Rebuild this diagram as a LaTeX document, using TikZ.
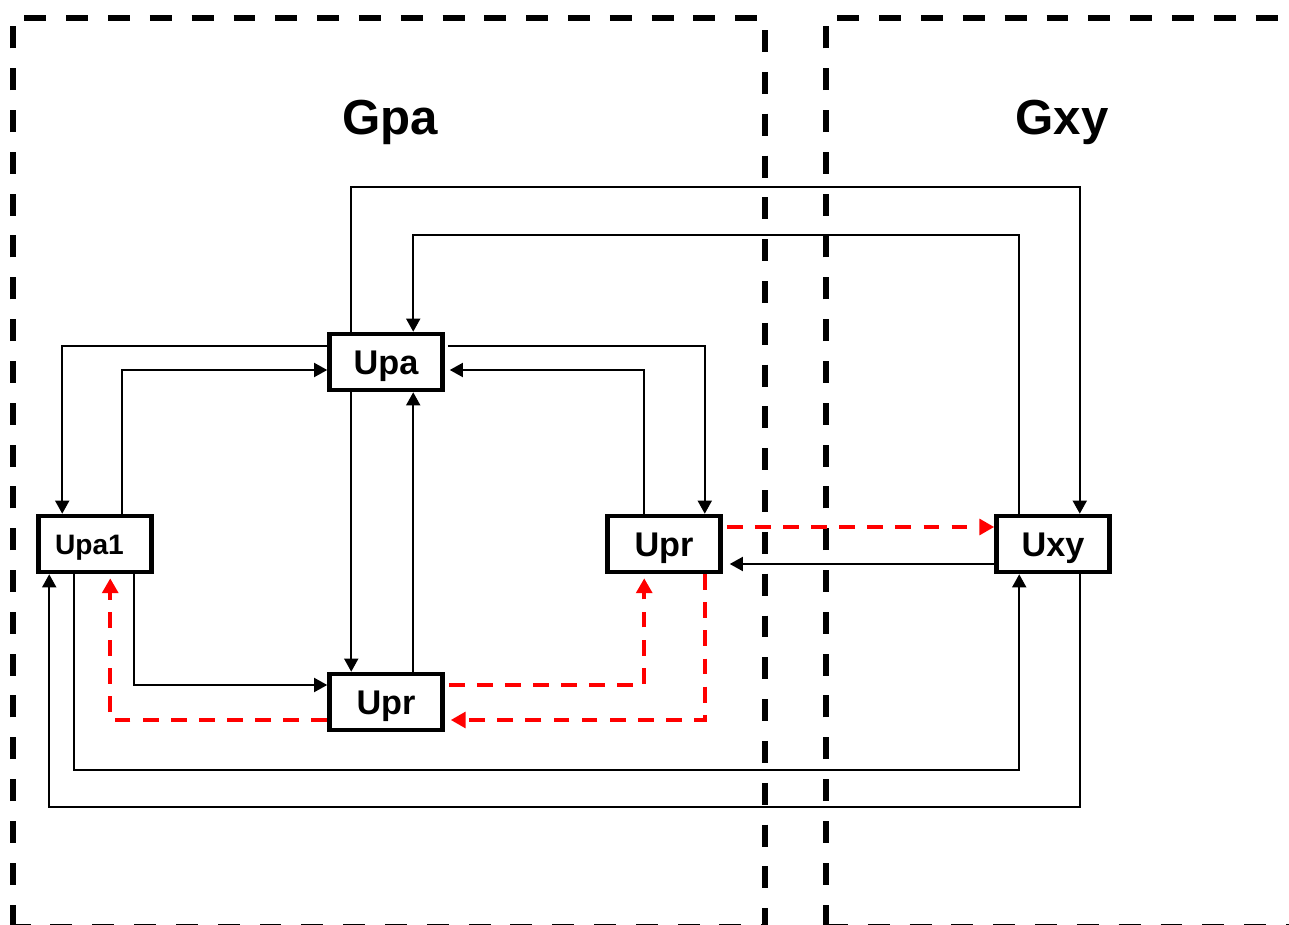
\documentclass[tikz,border=0pt]{standalone}
\usepackage{fontspec}
\setmainfont{Liberation Sans}
\usetikzlibrary{arrows.meta,calc}
\begin{document}
\begin{tikzpicture}[x=0.02cm,y=-0.02cm,
  unit/.style={draw,line width=2.6pt,minimum width=2.26cm,minimum height=1.12cm,inner sep=0pt,text height=14pt,text depth=0pt,font=\bfseries\fontsize{19.5}{24}\selectfont},
  conn/.style={line width=1.1pt,-{Triangle[length=7.5pt,width=8pt]}},
  redconn/.style={red,line width=2.2pt,dash pattern=on 9pt off 7pt,-{Triangle[length=8.5pt,width=9pt]}},
  region/.style={line width=3.1pt,dash pattern=on 12.5pt off 11.3pt},
  title/.style={text height=20pt,text depth=0pt,font=\bfseries\fontsize{28}{34}\selectfont}]
  \useasboundingbox (0,0) rectangle (1289,925);
  \draw[region] (13,926.5) -- (13,18) -- (765,18) -- (765,926.5) -- cycle;
  \draw[region] (826,926.5) -- (826,18) -- (1300,18);
  \draw[region] (826,926.5) -- (1300,926.5);
  \node[title] (gpa) at (390,117) {Gpa};
  \node[title] (gxy) at (1062,117) {Gxy};
  \node[unit] (upa) at (386,362) {Upa};
  \node[unit,text height=11.5pt,font=\bfseries\fontsize{16}{20}\selectfont] (upa1) at (95,544) {\hspace*{-0.22cm}Upa1};
  \node[unit] (uprb) at (386,702) {Upr};
  \node[unit] (uprr) at (664,544) {Upr};
  \node[unit] (uxy) at (1053,544) {Uxy};
  \draw[conn] ($(upa.north west)+(24,0)$) -- ++(0,-145) -| ($(uxy.north east)+(-32,0)$);
  \draw[conn] ($(uxy.north west)+(25,0)$) -- ++(0,-279) -| ($(upa.north west)+(86,0)$);
  \draw[conn] ($(upa.west)+(0,-16)$) -| ($(upa1.north west)+(26,0)$);
  \draw[conn] ($(upa1.north west)+(86,0)$) |- ($(upa.west)+(0,8)$);
  \draw[conn] ($(upa.east)+(3,-16)$) -| ($(uprr.north east)+(-18,0)$);
  \draw[conn] ($(uprr.north west)+(39,0)$) |- ($(upa.east)+(5,8)$);
  \draw[conn] ($(upa.south west)+(24,0)$) -- ($(uprb.north west)+(24,0)$);
  \draw[conn] ($(uprb.north west)+(86,0)$) -- ($(upa.south west)+(86,0)$);
  \draw[conn] ($(upa1.south west)+(98,0)$) |- ($(uprb.west)+(0,-17)$);
  \draw[conn] ($(upa1.south west)+(38,0)$) -- ++(0,196) -| ($(uxy.south west)+(25,0)$);
  \draw[conn] ($(uxy.south east)+(-32,0)$) -- ++(0,233) -| ($(upa1.south west)+(13,0)$);
  \draw[conn] ($(uxy.west)+(0,20)$) -- ($(uprr.east)+(7,20)$);
  \draw[redconn] ($(uprr.east)+(4,-17)$) -- ($(uxy.west)+(0,-17)$);
  \draw[redconn] ($(uprb.east)+(4,-17)$) -| ($(uprr.south west)+(39,4)$);
  \draw[redconn] ($(uprr.south east)+(-18,0)$) |- ($(uprb.east)+(6,18)$);
  \draw[redconn] ($(uprb.west)+(0,18)$) -| ($(upa1.south west)+(74,4)$);
\end{tikzpicture}
\end{document}
